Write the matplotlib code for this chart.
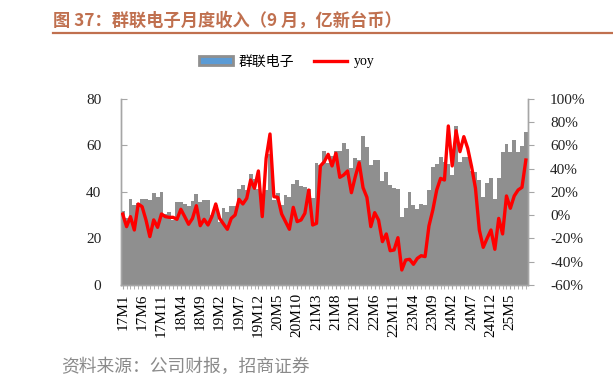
import matplotlib
matplotlib.use('Agg')
import matplotlib.pyplot as plt
import numpy as np
from matplotlib.patches import Patch
from matplotlib.lines import Line2D
from matplotlib.ticker import FuncFormatter

# ---- data (亿新台币 / yoy %) ----
rev_2017 = [32.0, 28.6, 37.0, 34.5, 35.2, 36.8, 37.0, 36.4, 39.5, 38.0, 39.8, 30.5]
rev_2018 = [31.3, 28.1, 35.8, 35.7, 35.0, 34.0, 36.2, 39.3, 35.9, 36.7, 36.7, 30.0]
rev_2019 = [34.3, 27.3, 33.1, 31.4, 34.1, 34.0, 41.2, 43.0, 41.0, 47.8, 45.5, 41.3]
rev_2020 = [33.9, 40.7, 56.3, 36.4, 39.4, 34.4, 38.9, 37.8, 43.6, 45.3, 42.5, 42.0]
rev_2021 = [41.3, 37.3, 52.4, 51.6, 57.6, 52.4, 55.4, 57.6, 57.6, 61.2, 58.4, 50.2]
rev_2022 = [54.8, 53.8, 64.2, 59.5, 51.6, 53.6, 53.8, 44.9, 48.7, 43.0, 41.9, 41.2]
rev_2023 = [29.3, 33.3, 39.8, 34.4, 32.8, 35.0, 34.6, 40.7, 50.7, 52.1, 55.0, 53.0]
rev_2024 = [52.0, 47.5, 68.5, 53.0, 55.2, 55.2, 49.2, 48.7, 45.2, 37.7, 43.7, 45.9]
rev_2025 = [36.8, 45.9, 57.3, 60.7, 57.3, 62.4, 57.3, 59.9, 65.7]

yoy_2017 = [1.0, -9.8, -1.2, -12.7, 9.7, 7.4, -4.0, -18.4, -4.0, -10.4, 1.1, -1.2]
yoy_2018 = [-1.8, -1.8, -3.5, 5.1, -1.2, -7.8, -2.7, 8.2, -9.0, -3.5, -8.4, -1.2]
yoy_2019 = [9.7, -2.7, -7.5, -12.1, -2.7, 0.2, 13.7, 9.7, 14.6, 30.3, 23.2, 38.1]
yoy_2020 = [-1.2, 49.0, 69.9, 16.0, 15.4, 1.1, -5.5, -12.1, 6.8, -5.5, -4.1, 1.7]
yoy_2021 = [21.7, -8.4, -7.0, 42.4, 46.1, 52.4, 42.4, 53.3, 32.6, 34.6, 38.1, 19.4]
yoy_2022 = [33.2, 45.2, 23.7, 15.4, -9.8, 2.2, -4.1, -22.7, -16.1, -30.5, -29.9, -19.3]
yoy_2023 = [-47.1, -38.5, -37.9, -42.2, -37.1, -34.8, -35.6, -9.2, 4.5, 21.7, 31.7, 30.3]
yoy_2024 = [76.8, 42.4, 72.7, 54.7, 67.6, 57.6, 41.8, 23.2, -12.7, -27.6, -19.9, -12.7]
yoy_2025 = [-29.3, -2.7, -16.1, 16.6, 6.0, 16.6, 21.7, 24.0, 47.5]

years = [17, 18, 19, 20, 21, 22, 23, 24, 25]
tick_labels = ['17M1', '17M6', '17M11', '18M4', '18M9', '19M2', '19M7', '19M12',
               '20M5', '20M10', '21M3', '21M8', '22M1', '22M6', '22M11', '23M4',
               '23M9', '24M2', '24M7', '24M12', '25M5']

revenue = (rev_2017 + rev_2018 + rev_2019 + rev_2020 + rev_2021 + rev_2022 +
           rev_2023 + rev_2024 + rev_2025)
yoy = (yoy_2017 + yoy_2018 + yoy_2019 + yoy_2020 + yoy_2021 + yoy_2022 +
       yoy_2023 + yoy_2024 + yoy_2025)
months = [f"{y}M{m}" for y in years for m in range(1, 13)][:len(revenue)]

# ---- styling ----
SERIF = ['Liberation Serif', 'Noto Sans CJK SC']
CJK = ['Noto Sans CJK SC', 'DejaVu Sans']
BAR_C = '#8F8F8F'
LINE_C = '#FF0000'
AX_C = '#A6A6A6'
TITLE_C = '#C0704F'

fig = plt.figure(figsize=(6.13, 3.87), dpi=100)
ax = fig.add_axes([0.197, 0.2636, 0.664, 0.4806])

x = np.arange(len(revenue))
ax.bar(x, revenue, width=1.0, color=BAR_C, linewidth=0, zorder=2)
ax.set_xlim(-0.5, len(revenue) - 0.5)
ax.set_ylim(0, 80)
ax.set_yticks([0, 20, 40, 60, 80])

ax2 = ax.twinx()
ax2.plot(x, yoy, color=LINE_C, lw=2.4, zorder=3, solid_joinstyle='round')
ax2.set_ylim(-60, 100)
ax2.set_yticks(range(-60, 101, 20))
ax2.yaxis.set_major_formatter(FuncFormatter(lambda v, p: f"{v:.0f}%"))

pos = [months.index(l) for l in tick_labels]
ax.set_xticks(pos)
ax.set_xticklabels(tick_labels, rotation=90, family=SERIF, fontsize=11)
ax.set_xticks(x, minor=True)
ax.tick_params(axis='x', which='both', direction='out', length=3, color=AX_C, pad=3)

for a in (ax, ax2):
    for s in a.spines.values():
        s.set_color(AX_C)
        s.set_linewidth(1.0)
    a.spines['top'].set_visible(False)
ax.tick_params(axis='y', direction='in', length=4, color=AX_C, pad=14)
ax2.tick_params(axis='y', direction='out', length=4, color=AX_C, pad=12)
for lab in ax.get_yticklabels() + ax2.get_yticklabels():
    lab.set_family(SERIF)
    lab.set_fontsize(11)
    lab.set_color('#222222')

# legend
handles = [Patch(facecolor='#5B9BD5', edgecolor=BAR_C, linewidth=2.0),
           Line2D([0], [0], color=LINE_C, lw=2.4)]
fig.legend(handles, ['群联电子', 'yoy'], loc='center', bbox_to_anchor=(0.468, 0.84),
           ncol=2, frameon=False, prop={'family': SERIF, 'size': 10},
           handlelength=2.4, handleheight=0.7, columnspacing=1.4, handletextpad=0.45)

# title and underline
fig.text(0.087, 0.947, '图 37：群联电子月度收入（9 月，亿新台币）', family=CJK,
         fontsize=12.4, fontweight='bold', color=TITLE_C, va='center', ha='left')
fig.add_artist(Line2D([0.087, 1.0], [0.914, 0.914], color=TITLE_C, lw=1.6,
                      transform=fig.transFigure))

# source
fig.text(0.100, 0.053, '资料来源：公司财报，招商证券', family=CJK, fontsize=12.8,
         color='#8A8A8A', va='center', ha='left')

fig.savefig('out.png', dpi=100)
